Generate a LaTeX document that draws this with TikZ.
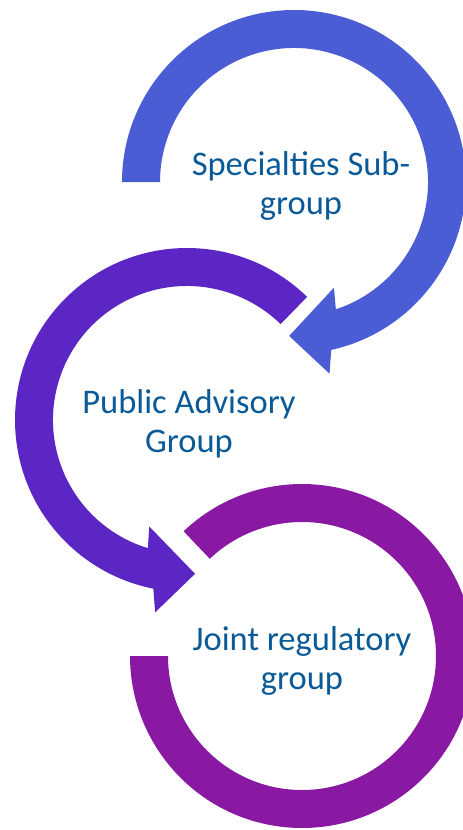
\documentclass[tikz,border=0pt]{standalone}
\usepackage{fontspec}
\setmainfont{Carlito}
\definecolor{arcA}{RGB}{75,93,212}
\definecolor{arcB}{RGB}{92,38,196}
\definecolor{arcC}{RGB}{137,24,163}
\definecolor{txt}{RGB}{10,90,152}
\tikzset{
  label/.style={align=center, text=txt, inner sep=0pt, font=\fontsize{34.5}{39}\selectfont}
}
\begin{document}
\begin{tikzpicture}[x=1pt,y=-1pt]
\useasboundingbox (0,0) rectangle (463,830);
\clip (0,0) rectangle (463,830);
% top arrow
\fill[arcA, shift={(294,182)}] (180:172) arc[start angle=180, end angle=437.5, radius=172]
  -- (439.5:195) -- (451.8:154) -- (429.3:113) -- (431.8:134)
  arc[start angle=431.8, end angle=180, radius=134] -- cycle;
% middle arrow
\fill[arcB, shift={(187,420)}] (-45.7:172) arc[start angle=-45.7, end angle=-258.7, radius=172]
  -- (-260.6:195) -- (-273:154) -- (-250.5:113) -- (-253:134)
  arc[start angle=-253, end angle=-45.7, radius=134] -- cycle;
% bottom arc
\fill[arcC, shift={(302,656)}] (226.5:172) arc[start angle=226.5, end angle=540, radius=172]
  -- (540:134) arc[start angle=540, end angle=226.5, radius=134] -- cycle;
\node[label] (t1) at (301,186) {Specialties Sub-\\group};
\node[label] (t2) at (189,424) {Public Advisory\\Group};
\node[label] (t3) at (302,661) {Joint regulatory\\group};
\end{tikzpicture}
\end{document}
